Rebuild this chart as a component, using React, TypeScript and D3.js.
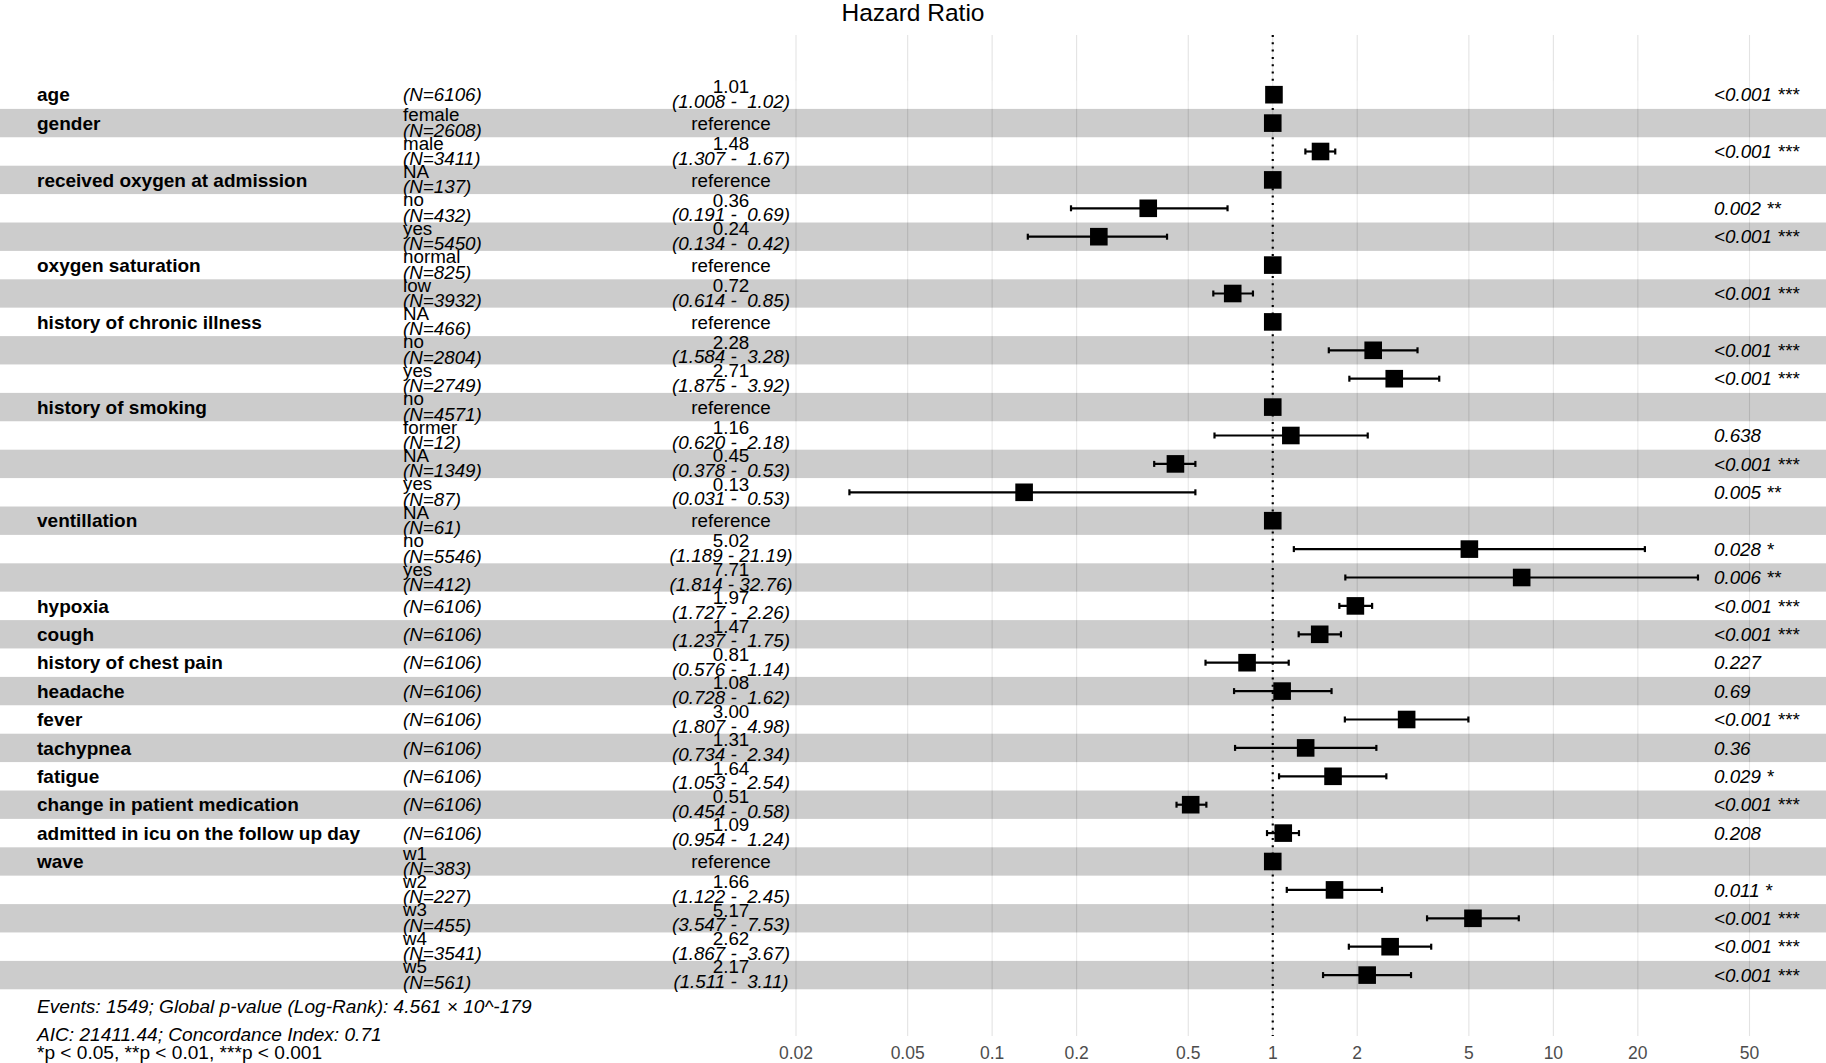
import React from "react";
import * as d3 from "d3";

// one entry per row of the forest plot, top to bottom
const varNames = [
  "age", "gender", "", "received oxygen at admission", "", "", "oxygen saturation", "",
  "history of chronic illness", "", "", "history of smoking", "", "", "", "ventillation", "", "",
  "hypoxia", "cough", "history of chest pain", "headache", "fever", "tachypnea", "fatigue",
  "change in patient medication", "admitted in icu on the follow up day", "wave", "", "", "", "",
];
const levels = [
  "", "female", "male", "NA", "no", "yes", "normal", "low",
  "NA", "no", "yes", "no", "former", "NA", "yes", "NA", "no", "yes",
  "", "", "", "", "", "", "", "", "", "w1", "w2", "w3", "w4", "w5",
];
const counts = [
  6106, 2608, 3411, 137, 432, 5450, 825, 3932,
  466, 2804, 2749, 4571, 12, 1349, 87, 61, 5546, 412,
  6106, 6106, 6106, 6106, 6106, 6106, 6106, 6106, 6106, 383, 227, 455, 3541, 561,
];
// null = reference level
const hazard: (number | null)[] = [
  1.01, null, 1.48, null, 0.36, 0.24, null, 0.72,
  null, 2.28, 2.71, null, 1.16, 0.45, 0.13, null, 5.02, 7.71,
  1.97, 1.47, 0.81, 1.08, 3.0, 1.31, 1.64, 0.51, 1.09, null, 1.66, 5.17, 2.62, 2.17,
];
const ciLow: (number | null)[] = [
  1.008, null, 1.307, null, 0.191, 0.134, null, 0.614,
  null, 1.584, 1.875, null, 0.62, 0.378, 0.031, null, 1.189, 1.814,
  1.727, 1.237, 0.576, 0.728, 1.807, 0.734, 1.053, 0.454, 0.954, null, 1.122, 3.547, 1.867, 1.511,
];
const ciHigh: (number | null)[] = [
  1.02, null, 1.67, null, 0.69, 0.42, null, 0.85,
  null, 3.28, 3.92, null, 2.18, 0.53, 0.53, null, 21.19, 32.76,
  2.26, 1.75, 1.14, 1.62, 4.98, 2.34, 2.54, 0.58, 1.24, null, 2.45, 7.53, 3.67, 3.11,
];
const pValues = [
  "<0.001", "", "<0.001", "", "0.002", "<0.001", "", "<0.001",
  "", "<0.001", "<0.001", "", "0.638", "<0.001", "0.005", "", "0.028", "0.006",
  "<0.001", "<0.001", "0.227", "0.69", "<0.001", "0.36", "0.029", "<0.001", "0.208",
  "", "0.011", "<0.001", "<0.001", "<0.001",
];

const tickValues = [0.02, 0.05, 0.1, 0.2, 0.5, 1, 2, 5, 10, 20, 50];
const tickLabels = ["0.02", "0.05", "0.1", "0.2", "0.5", "1", "2", "5", "10", "20", "50"];

const footLines = [
  "Events: 1549; Global p-value (Log-Rank): 4.561 \u00d7 10^-179",
  "AIC: 21411.44; Concordance Index: 0.71",
];
const signifNote = "*p < 0.05, **p < 0.01, ***p < 0.001";

const W = 1826;
const H = 1063;
const FONT = "'Liberation Sans', Arial, Helvetica, sans-serif";
const FS = 18.8;

const stars = (p: string) => {
  if (!p) return "";
  const v = p.startsWith("<") ? 0 : +p;
  if (v < 0.001) return " ***";
  if (v < 0.01) return " **";
  if (v < 0.05) return " *";
  return "";
};

export default function App() {
  const x = d3.scaleLog().domain([0.02, 50]).range([796, 1749.5]);
  const y = d3.scaleLinear().domain([0, varNames.length - 1]).range([94.7, 975.1]);
  const rowH = y(1) - y(0);
  const panelTop = 35;
  const panelBottom = 1036;
  const sq = 17.6;

  return (
    <svg
      width={W}
      height={H}
      style={{ position: "absolute", left: 0, top: 0, display: "block", background: "#fff" }}
      fontFamily={FONT}
    >
      <text x={W / 2} y={21} fontSize={24.5} textAnchor="middle" fill="#000">
        Hazard Ratio
      </text>

      {/* vertical grid at the axis breaks */}
      {tickValues.map((t) => (
        <line key={t} x1={x(t)} x2={x(t)} y1={panelTop} y2={panelBottom} stroke="#e3e3e3" strokeWidth={1.1} />
      ))}

      {/* alternating row bands */}
      {varNames.map((_, i) => (
        <rect
          key={i}
          x={0}
          y={y(i) - rowH / 2}
          width={W}
          height={rowH}
          fill={i % 2 === 1 ? "rgba(0,0,0,0.2)" : "rgba(255,255,255,0.2)"}
        />
      ))}

      {/* reference line at HR = 1 */}
      <line
        x1={x(1)}
        x2={x(1)}
        y1={panelTop}
        y2={panelBottom}
        stroke="#000"
        strokeWidth={2.2}
        strokeDasharray="2,5.3"
      />

      {/* estimates with confidence intervals */}
      {varNames.map((_, i) => {
        const cy = y(i);
        const hr = hazard[i];
        const lo = ciLow[i];
        const hi = ciHigh[i];
        return (
          <g key={i}>
            {lo != null && hi != null && (
              <g stroke="#000" strokeWidth={2.2}>
                <line x1={x(lo)} x2={x(hi)} y1={cy} y2={cy} />
                <line x1={x(lo)} x2={x(lo)} y1={cy - 3} y2={cy + 3} />
                <line x1={x(hi)} x2={x(hi)} y1={cy - 3} y2={cy + 3} />
              </g>
            )}
            <rect x={x(hr ?? 1) - sq / 2} y={cy - sq / 2} width={sq} height={sq} fill="#000" />
          </g>
        );
      })}

      {/* table columns */}
      <g fontSize={FS} fill="#000">
        {varNames.map((name, i) => {
          const cy = y(i);
          const hr = hazard[i];
          const lo = ciLow[i];
          const hi = ciHigh[i];
          const lvl = levels[i];
          return (
            <g key={i}>
              {name && (
                <text x={37} y={cy + 6.7} fontWeight="bold" fontSize={19}>
                  {name}
                </text>
              )}
              {lvl ? (
                <>
                  <text x={403} y={cy - 2}>{lvl}</text>
                  <text x={403} y={cy + 13.5} fontStyle="italic">{`(N=${counts[i]})`}</text>
                </>
              ) : (
                <text x={403} y={cy + 6.7} fontStyle="italic">{`(N=${counts[i]})`}</text>
              )}
              {hr == null ? (
                <text x={731} y={cy + 6.7} textAnchor="middle">reference</text>
              ) : (
                <>
                  <text x={731} y={cy - 1.8} textAnchor="middle">{hr.toFixed(2)}</text>
                  <text x={731} y={cy + 13} textAnchor="middle" fontStyle="italic" xmlSpace="preserve">
                    {`(${lo!.toFixed(3)} - ${hi!.toFixed(2).padStart(5)})`}
                  </text>
                </>
              )}
              {pValues[i] && (
                <text x={1714} y={cy + 6.7} fontStyle="italic">
                  {pValues[i] + stars(pValues[i])}
                </text>
              )}
            </g>
          );
        })}
      </g>

      {/* axis tick labels */}
      {tickValues.map((t, i) => (
        <text key={t} x={x(t)} y={1059} fontSize={17.5} textAnchor="middle" fill="#4d4d4d">
          {tickLabels[i]}
        </text>
      ))}

      <g fontSize={19.1} fill="#000">
        {footLines.map((s, i) => (
          <text key={s} x={37} y={1012.5 + i * 28} fontStyle="italic">
            {s}
          </text>
        ))}
        <text x={37} y={1059}>{signifNote}</text>
      </g>
    </svg>
  );
}
